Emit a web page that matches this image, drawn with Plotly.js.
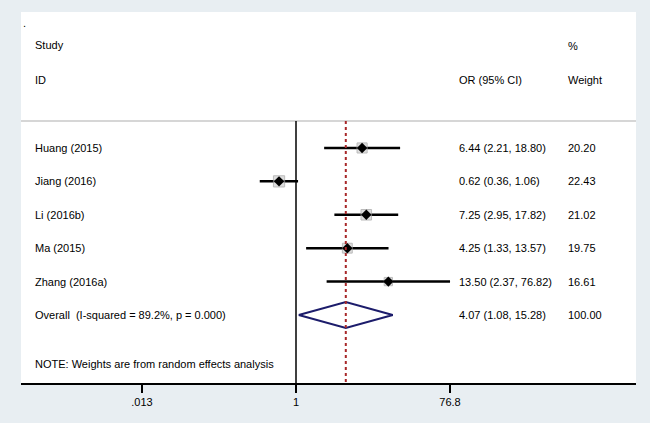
<!DOCTYPE html>
<html><head><meta charset="utf-8">
<script src="https://cdn.plot.ly/plotly-3.0.1.min.js"></script>
<style>html,body{margin:0;padding:0;background:#e8eef2;}#chart{width:650px;height:423px;}</style>
</head><body><div id="chart"></div>
<script>
const studies = ["Huang (2015)", "Jiang (2016)", "Li (2016b)", "Ma (2015)", "Zhang (2016a)"];
const orValues = [6.44, 0.62, 7.25, 4.25, 13.50];
const ciLower = [2.21, 0.36, 2.95, 1.33, 2.37];
const ciUpper = [18.80, 1.06, 17.82, 13.57, 76.82];
const weights = [20.20, 22.43, 21.02, 19.75, 16.61];
const overallLabel = "Overall  (I-squared = 89.2%, p = 0.000)";
const overall = {or: 4.07, lo: 1.08, hi: 15.28, weight: 100.00};
const tickVals = [1/76.8, 1, 76.8];
const tickText = [".013", "1", "76.8"];

const rows = studies.map((s, i) => i + 1);
const overallRow = studies.length + 1;
const FONT = "Liberation Sans, Arial, Helvetica, sans-serif";

const ciX = [], ciY = [];
studies.forEach((s, i) => { ciX.push(ciLower[i], ciUpper[i], null); ciY.push(rows[i], rows[i], null); });

const traces = [
  {type: "scatter", mode: "lines", x: ciX, y: ciY, line: {color: "black", width: 2.5}, hoverinfo: "skip"},
  {type: "scatter", mode: "markers", x: orValues, y: rows,
   marker: {symbol: "square", size: weights.map(w => w * 0.5), color: "#cfcfcf", line: {color: "#a0a0a0", width: 1}}},
  {type: "scatter", mode: "markers", x: orValues, y: rows,
   marker: {symbol: "diamond", size: 8, color: "black"}},
  {type: "scatter", mode: "lines",
   x: [overall.lo, overall.or, overall.hi, overall.or, overall.lo],
   y: [overallRow, overallRow - 0.39, overallRow, overallRow + 0.39, overallRow],
   line: {color: "#1c1c6b", width: 2}}
];

const yTop = -3.07, yBot = 8.036, sepY = 0.19;
const xRange = [-(296 - 21) / 81.7, (636 - 296) / 81.7];

const ann = [];
const txt = (x, y, t, anchor) => ann.push({xref: "paper", yref: "y", x: x, y: y, text: t, showarrow: false,
  xanchor: anchor || "left", yanchor: "middle", font: {family: FONT, size: 11, color: "black"}});
const xStudy = (33 - 21) / 615, xOR = (457 - 21) / 615, xW = (566 - 21) / 615;
txt(0.0, -2.75, ".");
txt(xStudy, -2.08, "Study");
txt(xStudy, -1.04, "ID");
txt(xOR, -1.04, "OR (95% CI)");
txt(xW, -2.04, "%");
txt(xW, -1.04, "Weight");
studies.forEach((s, i) => {
  txt(xStudy, rows[i], s);
  txt(xOR, rows[i], orValues[i].toFixed(2) + " (" + ciLower[i].toFixed(2) + ", " + ciUpper[i].toFixed(2) + ")");
  txt(xW, rows[i], weights[i].toFixed(2));
});
txt(xStudy, overallRow, overallLabel);
txt(xOR, overallRow, overall.or.toFixed(2) + " (" + overall.lo.toFixed(2) + ", " + overall.hi.toFixed(2) + ")");
txt(xW, overallRow, overall.weight.toFixed(2));
txt(xStudy, 7.47, "NOTE: Weights are from random effects analysis");

const layout = {
  width: 650, height: 423,
  margin: {l: 21, r: 14, t: 12, b: 40},
  paper_bgcolor: "#e8eef2", plot_bgcolor: "white",
  showlegend: false,
  xaxis: {type: "log", range: xRange, tickvals: tickVals, ticktext: tickText, ticks: "outside", ticklen: 8,
    tickwidth: 1.5, tickcolor: "black", showline: true, linecolor: "black", linewidth: 2, showgrid: false,
    zeroline: false, tickfont: {family: FONT, size: 11, color: "black"}, fixedrange: true},
  yaxis: {range: [yBot, yTop], showticklabels: false, ticks: "", showgrid: false, zeroline: false, showline: false},
  shapes: [
    {type: "line", xref: "paper", yref: "y", x0: 0, x1: 1, y0: sepY, y1: sepY, line: {color: "#c8c8c8", width: 1.5}},
    {type: "line", xref: "x", yref: "y", x0: 1, x1: 1, y0: sepY, y1: yBot, line: {color: "black", width: 1.5}},
    {type: "line", xref: "x", yref: "y", x0: overall.or, x1: overall.or, y0: sepY, y1: yBot, line: {color: "#a8282a", width: 2, dash: "3px,3px"}}
  ],
  annotations: ann
};
Plotly.newPlot("chart", traces, layout, {staticPlot: true});
</script></body></html>
